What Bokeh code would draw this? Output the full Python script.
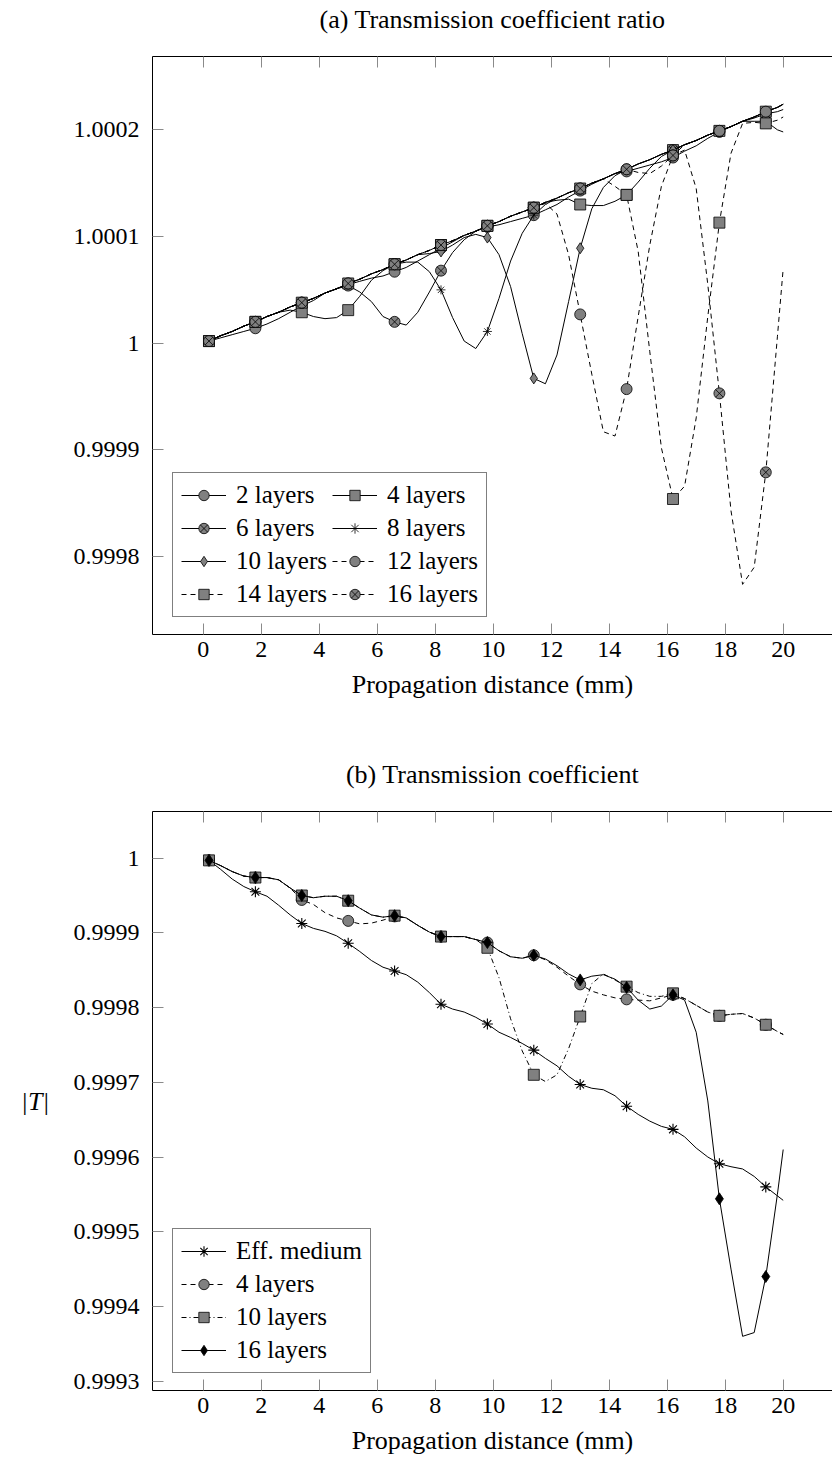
from bokeh.plotting import figure
from bokeh.layouts import column
from bokeh.models import (LinearAxis, FixedTicker, CustomJSTickFormatter, Legend,
                          LegendItem, Range1d)
from bokeh.embed import file_html
from bokeh.resources import INLINE

# ---------------------------------------------------------------- data
distance_mm = [0.2, 0.6, 1.0, 1.4, 1.8, 2.2, 2.6, 3.0, 3.4, 3.8, 4.2, 4.6, 5.0, 5.4,
               5.8, 6.2, 6.6, 7.0, 7.4, 7.8, 8.2, 8.6, 9.0, 9.4, 9.8, 10.2, 10.6,
               11.0, 11.4, 11.8, 12.2, 12.6, 13.0, 13.4, 13.8, 14.2, 14.6, 15.0,
               15.4, 15.8, 16.2, 16.6, 17.0, 17.4, 17.8, 18.2, 18.6, 19.0, 19.4,
               19.8, 20.0]

# (a) transmission coefficient ratio, stored as (ratio - 1) * 1e5
ratio_2 = [0.2, 0.5, 0.8, 1.1, 1.4, 1.8, 2.3, 2.9, 3.5, 4.0, 4.7, 5.1, 5.5, 5.8, 6.1,
           6.3, 6.7, 7.1, 7.7, 8.3, 8.9, 9.5, 10.1, 10.5, 10.9, 11.1, 11.4, 11.7,
           12.0, 12.5, 13.0, 13.7, 14.3, 14.9, 15.4, 15.9, 16.1, 16.4, 16.7, 17.0,
           17.4, 18.0, 18.5, 19.2, 19.8, 20.3, 20.8, 21.1, 21.5, 21.7, 21.9]
ratio_4 = [0.2, 0.7, 1.1, 1.6, 2.0, 2.5, 2.9, 3.1, 2.9, 2.5, 2.3, 2.4, 3.1, 4.4, 5.9,
           6.8, 7.4, 7.8, 8.3, 8.7, 9.2, 9.6, 10.1, 10.5, 11.0, 11.4, 11.9, 12.3,
           12.7, 13.2, 13.4, 13.5, 13.0, 12.9, 12.9, 13.3, 13.9, 15.1, 16.4, 17.5,
           18.1, 18.6, 19.0, 19.5, 19.9, 20.3, 20.8, 21.2, 21.7, 22.1, 22.4]
ratio_6 = [0.2, 0.7, 1.1, 1.6, 2.0, 2.5, 2.9, 3.4, 3.8, 4.2, 4.7, 5.1, 5.4, 4.8, 3.9,
           2.5, 2.0, 1.7, 2.9, 4.8, 6.8, 8.5, 9.7, 10.5, 11.0, 11.4, 11.9, 12.3,
           12.7, 13.2, 13.6, 14.1, 14.5, 15.0, 15.4, 15.9, 16.3, 16.8, 17.2, 17.7,
           18.1, 18.6, 19.0, 19.5, 19.9, 20.3, 20.8, 20.8, 20.8, 20.0, 19.8]
ratio_8 = [0.2, 0.7, 1.1, 1.6, 2.0, 2.5, 2.9, 3.4, 3.8, 4.2, 4.7, 5.1, 5.6, 6.0, 6.5,
           6.9, 7.4, 7.6, 7.6, 6.7, 5.0, 2.4, 0.2, -0.5, 1.1, 4.2, 7.7, 10.3, 12.0,
           13.0, 13.6, 14.1, 14.5, 15.0, 15.4, 15.9, 16.3, 16.8, 17.2, 17.7, 18.1,
           18.6, 19.0, 19.5, 19.9, 20.3, 20.8, 21.2, 21.7, 22.1, 22.4]
ratio_10 = [0.2, 0.7, 1.1, 1.6, 2.0, 2.5, 2.9, 3.4, 3.8, 4.2, 4.7, 5.1, 5.6, 6.0, 6.5,
            6.9, 7.4, 7.8, 8.3, 8.4, 8.6, 9.2, 9.9, 10.2, 9.9, 8.3, 5.3, 0.9, -3.3,
            -3.8, -1.1, 3.9, 8.9, 12.6, 14.6, 15.7, 16.3, 16.8, 17.2, 17.7, 18.1,
            18.6, 19.0, 19.5, 19.9, 20.3, 20.8, 21.2, 21.7, 22.1, 22.4]
ratio_12 = [0.2, 0.7, 1.1, 1.6, 2.0, 2.5, 2.9, 3.4, 3.8, 4.2, 4.7, 5.1, 5.6, 6.0, 6.5,
            6.9, 7.4, 7.8, 8.3, 8.7, 9.2, 9.6, 10.1, 10.5, 11.0, 11.4, 11.9, 12.3,
            12.7, 13.1, 12.1, 8.3, 2.7, -2.9, -8.3, -8.7, -4.3, 2.5, 9.2, 14.7,
            17.6, 18.6, 19.0, 19.5, 19.9, 20.3, 20.8, 21.2, 21.7, 22.1, 22.4]
ratio_14 = [0.2, 0.7, 1.1, 1.6, 2.0, 2.5, 2.9, 3.4, 3.8, 4.2, 4.7, 5.1, 5.6, 6.0, 6.5,
            6.9, 7.4, 7.8, 8.3, 8.7, 9.2, 9.6, 10.1, 10.5, 11.0, 11.4, 11.9, 12.3,
            12.7, 13.2, 13.6, 14.1, 14.5, 15.0, 15.4, 14.7, 13.9, 8.6, -0.8, -9.8,
            -14.6, -13.4, -7.0, 2.5, 11.3, 17.8, 20.6, 20.7, 20.6, 20.9, 21.2]
ratio_16 = [0.2, 0.7, 1.1, 1.6, 2.0, 2.5, 2.9, 3.4, 3.8, 4.2, 4.7, 5.1, 5.6, 6.0, 6.5,
            6.9, 7.4, 7.8, 8.3, 8.7, 9.2, 9.6, 10.1, 10.5, 11.0, 11.4, 11.9, 12.3,
            12.7, 13.2, 13.6, 14.1, 14.5, 15.0, 15.4, 15.9, 16.3, 16.0, 15.9, 16.6,
            17.6, 18.1, 14.5, 5.5, -4.7, -15.7, -22.6, -21.0, -12.1, 0.6, 7.0]

# (b) |T|, stored as (|T| - 1) * 1e5
t_eff = [-0.3, -1.5, -2.8, -3.8, -4.5, -5.1, -6.3, -7.6, -8.75, -9.4, -9.8, -10.4,
         -11.4, -12.5, -13.7, -14.6, -15.1, -15.6, -16.6, -18.0, -19.55, -20.2,
         -20.6, -21.3, -22.2, -23.3, -24.0, -24.8, -25.7, -26.8, -27.8, -29.2,
         -30.3, -30.8, -31.0, -31.8, -33.2, -34.3, -35.2, -35.9, -36.3, -37.3,
         -38.8, -40.0, -40.9, -41.3, -41.6, -42.6, -44.0, -45.2, -45.8]
t_4 = [-0.3, -1.0, -1.8, -2.4, -2.6, -2.6, -2.9, -4.0, -5.6, -6.2, -7.3, -8.0, -8.4,
       -8.8, -8.7, -8.3, -7.8, -8.0, -9.0, -9.9, -10.5, -10.5, -10.5, -10.9, -11.3,
       -12.4, -13.2, -13.4, -13.0, -13.6, -14.6, -15.8, -16.9, -17.8, -18.3, -18.7,
       -18.9, -19.0, -19.1, -18.7, -18.3, -18.8, -19.7, -20.6, -21.1, -20.9, -20.8,
       -21.4, -22.3, -23.2, -23.6]
t_10 = [-0.3, -1.0, -1.8, -2.4, -2.6, -2.6, -2.9, -4.0, -5.0, -5.3, -5.1, -5.1, -5.7,
        -6.7, -7.6, -7.9, -7.7, -8.0, -9.0, -9.9, -10.5, -10.5, -10.5, -10.9, -12.0,
        -16.0, -21.5, -25.8, -29.0, -29.9, -29.0, -25.5, -21.2, -16.8, -15.5, -16.3,
        -17.2, -18.0, -18.5, -18.5, -18.1, -18.8, -19.7, -20.6, -21.1, -20.9, -20.8,
        -21.4, -22.3, -23.2, -23.6]
t_16 = [-0.3, -1.0, -1.8, -2.4, -2.6, -2.6, -2.9, -4.0, -5.0, -5.3, -5.1, -5.1, -5.7,
        -6.7, -7.6, -7.9, -7.7, -8.0, -9.0, -9.9, -10.5, -10.5, -10.5, -10.9, -11.3,
        -12.4, -13.2, -13.4, -13.0, -13.5, -14.4, -15.5, -16.3, -15.8, -15.6, -16.2,
        -17.3, -19.0, -20.2, -19.8, -18.3, -19.0, -23.3, -32.5, -45.6, -55.0, -64.0,
        -63.5, -56.0, -45.0, -39.0]

x_ticks = [0, 2, 4, 6, 8, 10, 12, 14, 16, 18, 20]
ratio_ticks = [0.9998, 0.9999, 1.0, 1.0001, 1.0002]
t_ticks = [0.9993, 0.9994, 0.9995, 0.9996, 0.9997, 0.9998, 0.9999, 1.0]

FONT = "'Liberation Serif', 'DejaVu Serif', serif"
GRAY = "#808080"
INK = "black"


def to_abs(dev):
    return [1 + v * 1e-5 for v in dev]


def make_fig(title, y_rng, ticks, top, bottom, fh):
    p = figure(frame_width=680, frame_height=fh,
               x_range=Range1d(-1.748, 21.70), y_range=Range1d(*y_rng),
               output_backend="svg", toolbar_location=None,
               min_border_left=152, min_border_right=0,
               min_border_top=top, min_border_bottom=bottom)
    p.outline_line_color = None
    p.grid.visible = False
    fmt = CustomJSTickFormatter(code="return tick.toFixed(4).replace(/\\.?0+$/, '');")
    for ax in (p.xaxis[0], p.yaxis[0]):
        ax.axis_line_color = "black"
        ax.axis_line_width = 1
        ax.major_tick_in = 11
        ax.major_tick_out = 0
        ax.major_tick_line_color = "#8a8a8a"
        ax.minor_tick_line_color = None
        ax.major_label_text_font = FONT
        ax.major_label_text_font_size = "24px"
        ax.major_label_text_color = INK
        ax.axis_label_text_font = FONT
        ax.axis_label_text_font_size = "26px"
        ax.axis_label_text_font_style = "normal"
        ax.axis_label_text_color = INK
    p.xaxis[0].ticker = FixedTicker(ticks=x_ticks)
    p.xaxis[0].major_label_standoff = 7
    p.xaxis[0].axis_label = "Propagation distance (mm)"
    p.xaxis[0].axis_label_standoff = 10
    p.yaxis[0].ticker = FixedTicker(ticks=ticks)
    p.yaxis[0].formatter = fmt
    p.yaxis[0].major_label_standoff = 13
    # top axis: inward ticks, and the panel title as its label
    top_ax = LinearAxis(ticker=FixedTicker(ticks=x_ticks),
                        formatter=CustomJSTickFormatter(code="return '';"),
                        major_tick_in=11, major_tick_out=0,
                        major_tick_line_color="#8a8a8a", minor_tick_line_color=None,
                        axis_line_color="black", major_label_standoff=0,
                        major_label_text_font_size="1px",
                        axis_label=title, axis_label_standoff=23,
                        axis_label_text_font=FONT, axis_label_text_font_size="26px",
                        axis_label_text_font_style="normal",
                        axis_label_text_color=INK)
    p.add_layout(top_ax, "above")
    return p


def add_series(p, dev, marker, size, fill, dash, items, label, lw=0.8):
    y = to_abs(dev)
    ln = p.line(distance_mm, y, line_color="black", line_width=1.0, line_dash=dash)
    sc = p.scatter(distance_mm[::4], y[::4], marker=marker, size=size,
                   fill_color=fill, line_color="black", line_width=lw)
    items.append(LegendItem(label=label, renderers=[ln, sc]))


def style_legend(lg):
    lg.label_text_font = FONT
    lg.label_text_font_size = "25px"
    lg.label_text_color = INK
    lg.border_line_color = "black"
    lg.border_line_width = 1
    lg.background_fill_color = "white"
    lg.background_fill_alpha = 1
    lg.padding = 8
    lg.spacing = 5
    lg.margin = 0
    lg.glyph_width = 45
    lg.glyph_height = 26
    lg.label_height = 26
    lg.label_standoff = 10


# ---------------------------------------------------------------- (a)
p1 = make_fig("(a) Transmission coefficient ratio", (0.999727, 1.0002687),
              ratio_ticks, 56, 108, 578)
items1 = []
add_series(p1, ratio_2, "circle", 11, GRAY, "solid", items1, "2 layers")
add_series(p1, ratio_4, "square", 11, GRAY, "solid", items1, "4 layers")
add_series(p1, ratio_6, "circle_x", 11, GRAY, "solid", items1, "6 layers")
add_series(p1, ratio_8, "asterisk", 9, None, "solid", items1, "8 layers")
add_series(p1, ratio_10, "diamond", 11, GRAY, "solid", items1, "10 layers")
add_series(p1, ratio_12, "circle", 11, GRAY, "5 4", items1, "12 layers")
add_series(p1, ratio_14, "square", 11, GRAY, "5 4", items1, "14 layers")
add_series(p1, ratio_16, "circle_x", 11, GRAY, "5 4", items1, "16 layers")
lg1 = Legend(items=items1, ncols=2, orientation="horizontal", location=(20, 17))
style_legend(lg1)
p1.add_layout(lg1)

# ---------------------------------------------------------------- (b)
p2 = make_fig("(b) Transmission coefficient", (0.9992875, 1.0000624),
              t_ticks, 69, 70, 579)
p2.yaxis[0].axis_label = "|T|"
p2.yaxis[0].axis_label_text_font_style = "italic"
p2.yaxis[0].axis_label_orientation = "horizontal"
p2.yaxis[0].axis_label_standoff = 21
items2 = []
add_series(p2, t_eff, "asterisk", 11, None, "solid", items2, "Eff. medium", lw=1.1)
add_series(p2, t_4, "circle", 11, GRAY, "5 4", items2, "4 layers")
add_series(p2, t_10, "square", 11, GRAY, "5 3 1 3", items2, "10 layers")
add_series(p2, t_16, "diamond", 12, "black", "solid", items2, "16 layers")
lg2 = Legend(items=items2, ncols=1, location=(20, 17))
style_legend(lg2)
p2.add_layout(lg2)

layout = column(p1, p2)
open("out.html", "w").write(file_html(layout, INLINE))
